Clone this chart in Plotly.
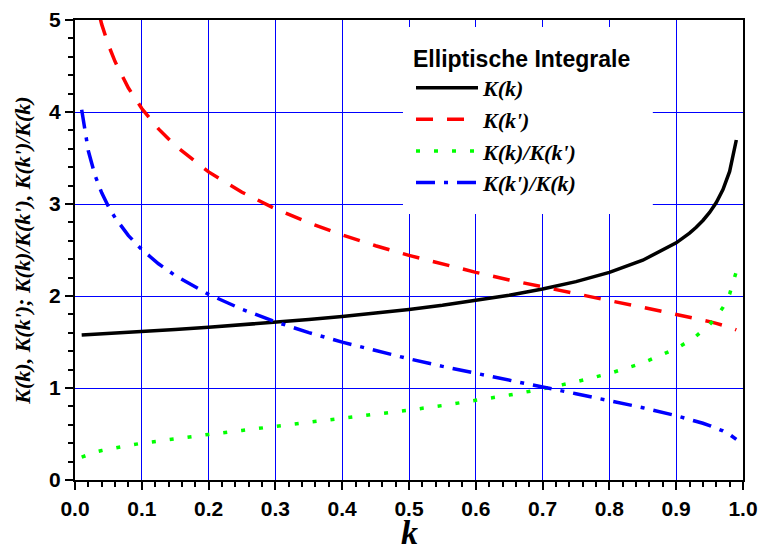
import plotly.graph_objects as go

# modulus k
k = [0.01, 0.02, 0.03, 0.04, 0.05, 0.06, 0.08, 0.10, 0.125, 0.15,
     0.20, 0.25, 0.30, 0.35, 0.40, 0.45, 0.50, 0.55, 0.60, 0.65,
     0.70, 0.75, 0.80, 0.85, 0.90, 0.91, 0.92, 0.93, 0.94, 0.95,
     0.96, 0.97, 0.98, 0.99]

# complete elliptic integral K(k)
K_k = [1.5748, 1.5787, 1.5828, 1.5869, 1.5910, 1.5952, 1.6037, 1.6124, 1.6237, 1.6353,
       1.6596, 1.6858, 1.7139, 1.7444, 1.7775, 1.8139, 1.8541, 1.8989, 1.9496, 2.0076,
       2.0754, 2.1565, 2.2572, 2.3890, 2.5781, 2.6278, 2.6836, 2.7471, 2.8208, 2.9083,
       3.0161, 3.1559, 3.3541, 3.6956]

# complementary integral K(k')
K_kp = [6.3381, 5.6451, 5.2398, 4.9523, 4.7295, 4.5474, 4.2604, 4.0380, 3.8159, 3.6346,
        3.3492, 3.1282, 2.9479, 2.7955, 2.6633, 2.5464, 2.4413, 2.3456, 2.2572, 2.1747,
        2.0968, 2.0221, 1.9496, 1.8775, 1.8033, 1.7878, 1.7720, 1.7557, 1.7388, 1.7211,
        1.7024, 1.6820, 1.6591, 1.6311]

# ratio K(k)/K(k')
ratio_k = [0.2485, 0.2797, 0.3021, 0.3204, 0.3364, 0.3508, 0.3764, 0.3993, 0.4255, 0.4499,
           0.4955, 0.5389, 0.5814, 0.6240, 0.6674, 0.7123, 0.7595, 0.8096, 0.8637, 0.9232,
           0.9898, 1.0665, 1.1578, 1.2725, 1.4297, 1.4698, 1.5145, 1.5647, 1.6222, 1.6898,
           1.7717, 1.8762, 2.0216, 2.2658]

# ratio K(k')/K(k)
ratio_kp = [4.0248, 3.5757, 3.3105, 3.1208, 2.9726, 2.8507, 2.6566, 2.5043, 2.3502, 2.2227,
            2.0180, 1.8556, 1.7200, 1.6026, 1.4983, 1.4038, 1.3167, 1.2352, 1.1578, 1.0832,
            1.0103, 0.9377, 0.8637, 0.7859, 0.6995, 0.6803, 0.6603, 0.6391, 0.6164, 0.5918,
            0.5644, 0.5330, 0.4946, 0.4414]

x_ticks = [0.0, 0.1, 0.2, 0.3, 0.4, 0.5, 0.6, 0.7, 0.8, 0.9, 1.0]
y_ticks = [0, 1, 2, 3, 4, 5]

series = [
    ("K(k)", K_k, "#000000", "solid"),
    ("K(k')", K_kp, "#ff0000", "17px,14px"),
    ("K(k)/K(k')", ratio_k, "#00ff00", "4px,14px"),
    ("K(k')/K(k)", ratio_kp, "#0000ff", "19px,9px,4px,9px"),
]

serif = "Liberation Serif, Times New Roman, serif"
sans = "Liberation Sans, Arial, sans-serif"

fig = go.Figure()
for name, vals, color, dash in series:
    fig.add_trace(go.Scatter(
        x=k, y=vals, mode="lines", name=name,
        line=dict(color=color, width=3.5, dash=dash),
    ))

axis_common = dict(
    showgrid=True, gridcolor="#0000ff", gridwidth=1,
    showline=True, linecolor="#000000", linewidth=2, mirror=True,
    ticks="outside", ticklen=8, tickwidth=2, tickcolor="#000000",
    zeroline=False,
    tickfont=dict(family=sans, size=21, color="#000000", weight="bold"),
)

fig.update_xaxes(
    range=[0, 1], tickmode="array", tickvals=x_ticks,
    ticktext=[f"{v:.1f}" for v in x_ticks],
    ticklabelstandoff=1,
    minor=dict(dtick=0.02, ticks="outside", ticklen=5, tickwidth=2,
               tickcolor="#000000", showgrid=False),
    **axis_common,
)
fig.update_yaxes(
    range=[0, 5], tickmode="array", tickvals=y_ticks,
    ticktext=[str(v) for v in y_ticks],
    minor=dict(dtick=0.2, ticks="outside", ticklen=5, tickwidth=2,
               tickcolor="#000000", showgrid=False),
    title=dict(text="K(k), K(k'); K(k)/K(k'), K(k')/K(k)", standoff=12,
               font=dict(family=serif, size=22, color="#000000",
                         weight="bold", style="italic")),
    **axis_common,
)

# x-axis title, set close to the bottom edge below the tick labels
fig.add_annotation(
    text="k", xref="paper", yref="paper", x=0.5, y=-0.1435,
    xanchor="center", yanchor="bottom", yshift=-7, showarrow=False,
    font=dict(family=serif, size=34, color="#000000",
              weight="bold", style="italic"),
)

# white panel behind the legend, hiding the grid there
fig.add_shape(
    type="rect", xref="paper", yref="paper",
    x0=0.491, x1=0.865, y0=0.578, y1=0.985,
    fillcolor="#ffffff", line=dict(width=0), layer="above",
)

fig.update_layout(
    width=759, height=546,
    margin=dict(l=75, r=16, t=20, b=66, autoexpand=False),
    paper_bgcolor="#ffffff", plot_bgcolor="#ffffff",
    legend=dict(
        x=0.503, y=0.963, xanchor="left", yanchor="top",
        bgcolor="rgba(255,255,255,0)", borderwidth=0,
        itemwidth=62, tracegroupgap=0,
        title=dict(text="Elliptische Integrale",
                   font=dict(family=sans, size=23, color="#000000",
                             weight="bold", style="normal")),
        font=dict(family=serif, size=22, color="#000000",
                  weight="bold", style="italic"),
    ),
)

fig.write_html("out.html")
